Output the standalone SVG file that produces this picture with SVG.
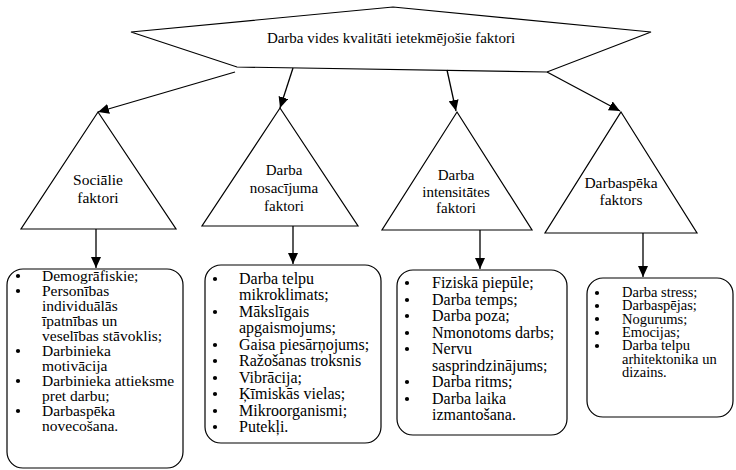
<svg xmlns="http://www.w3.org/2000/svg" width="736" height="470" viewBox="0 0 736 470">
<style>
.s{fill:#fff;stroke:#000;stroke-width:1.2}
text{font-family:'Liberation Serif','Times New Roman',serif;fill:#000}
.c{stroke:#000;stroke-width:1.3;fill:none}
</style>
<defs>
<marker id="ah" markerUnits="userSpaceOnUse" markerWidth="11" markerHeight="10" refX="11" refY="5" orient="auto">
<path d="M0,0 L11,5 L0,10 z" fill="#000"/>
</marker>
<circle id="b" r="2.1" fill="#000"/>
</defs>
<rect width="736" height="470" fill="#fff"/>
<g id="root">
<polygon class="s" points="393,7 651,32 547,72 237,67 131,32"/>
<text x="391" y="43" font-size="15" text-anchor="middle">Darba vides kvalitāti ietekmējošie faktori</text>
</g>
<g id="tri1">
<polygon class="s" points="98,112 176,229 21,229"/>
<text font-size="15.5" text-anchor="middle"><tspan x="98" y="185">Sociālie</tspan><tspan x="98" y="203">faktori</tspan></text>
</g>
<g id="tri2">
<polygon class="s" points="280,108 358,226 202,226"/>
<text font-size="15" text-anchor="middle"><tspan x="284" y="175">Darba</tspan><tspan x="284" y="193">nosacījuma</tspan><tspan x="284" y="211">faktori</tspan></text>
</g>
<g id="tri3">
<polygon class="s" points="457,112 532,230 382,230"/>
<text font-size="15" text-anchor="middle"><tspan x="456" y="180">Darba</tspan><tspan x="456" y="197">intensitātes</tspan><tspan x="456" y="213">faktori</tspan></text>
</g>
<g id="tri4">
<polygon class="s" points="621,112 697,233 545,233"/>
<text font-size="15.5" text-anchor="middle"><tspan x="621" y="188">Darbaspēka</tspan><tspan x="621" y="205">faktors</tspan></text>
</g>
<g id="box1">
<rect class="s" x="7" y="269" width="176" height="199" rx="16"/>
<g><use href="#b" x="18" y="276"/><use href="#b" x="18" y="291"/><use href="#b" x="18" y="351"/><use href="#b" x="18" y="381"/><use href="#b" x="18" y="411"/></g>
<text font-size="15.5"><tspan x="42" y="281">Demogrāfiskie;</tspan><tspan x="42" y="296">Personības</tspan><tspan x="42" y="311">individuālās</tspan><tspan x="42" y="326">īpatnības un</tspan><tspan x="42" y="341">veselības stāvoklis;</tspan><tspan x="42" y="356">Darbinieka</tspan><tspan x="42" y="371">motivācija</tspan><tspan x="42" y="386">Darbinieka attieksme</tspan><tspan x="42" y="401">pret darbu;</tspan><tspan x="42" y="416">Darbaspēka</tspan><tspan x="42" y="431">novecošana.</tspan></text>
</g>
<g id="box2">
<rect class="s" x="205" y="265" width="176" height="178" rx="16"/>
<g><use href="#b" x="215" y="279"/><use href="#b" x="215" y="312"/><use href="#b" x="215" y="345"/><use href="#b" x="215" y="361"/><use href="#b" x="215" y="378"/><use href="#b" x="215" y="394"/><use href="#b" x="215" y="411"/><use href="#b" x="215" y="427"/></g>
<text font-size="16"><tspan x="239" y="284">Darba telpu</tspan><tspan x="239" y="300">mikroklimats;</tspan><tspan x="239" y="317">Mākslīgais</tspan><tspan x="239" y="333">apgaismojums;</tspan><tspan x="239" y="350">Gaisa piesārņojums;</tspan><tspan x="239" y="366">Ražošanas troksnis</tspan><tspan x="239" y="383">Vibrācija;</tspan><tspan x="239" y="399">Ķīmiskās vielas;</tspan><tspan x="239" y="416">Mikroorganismi;</tspan><tspan x="239" y="432">Putekļi.</tspan></text>
</g>
<g id="box3">
<rect class="s" x="397" y="270" width="170" height="165" rx="16"/>
<g><use href="#b" x="407" y="283"/><use href="#b" x="407" y="300"/><use href="#b" x="407" y="316"/><use href="#b" x="407" y="333"/><use href="#b" x="407" y="349"/><use href="#b" x="407" y="382"/><use href="#b" x="407" y="399"/></g>
<text font-size="16"><tspan x="432" y="288">Fiziskā piepūle;</tspan><tspan x="432" y="305">Darba temps;</tspan><tspan x="432" y="321">Darba poza;</tspan><tspan x="432" y="338">Nmonotoms darbs;</tspan><tspan x="432" y="354">Nervu</tspan><tspan x="432" y="371">sasprindzinājums;</tspan><tspan x="432" y="387">Darba ritms;</tspan><tspan x="432" y="404">Darba laika</tspan><tspan x="432" y="420">izmantošana.</tspan></text>
</g>
<g id="box4">
<rect class="s" x="587" y="278" width="146" height="139" rx="16"/>
<g><use href="#b" x="597" y="293"/><use href="#b" x="597" y="306"/><use href="#b" x="597" y="319"/><use href="#b" x="597" y="333"/><use href="#b" x="597" y="346"/></g>
<text font-size="14.5"><tspan x="622" y="297">Darba stress;</tspan><tspan x="622" y="310">Darbaspējas;</tspan><tspan x="622" y="324">Nogurums;</tspan><tspan x="622" y="337">Emocijas;</tspan><tspan x="622" y="350">Darba telpu</tspan><tspan x="622" y="364">arhitektonika un</tspan><tspan x="622" y="377">dizains.</tspan></text>
</g>
<g id="connectors" class="c">
<line x1="235" y1="72" x2="98" y2="112" marker-end="url(#ah)"/>
<line x1="293" y1="68" x2="280" y2="108" marker-end="url(#ah)"/>
<line x1="447" y1="70" x2="456" y2="111" marker-end="url(#ah)"/>
<line x1="547" y1="72" x2="620" y2="111" marker-end="url(#ah)"/>
<line x1="96" y1="229" x2="96" y2="268" marker-end="url(#ah)"/>
<line x1="293" y1="226" x2="293" y2="264" marker-end="url(#ah)"/>
<line x1="480" y1="230" x2="480" y2="269" marker-end="url(#ah)"/>
<line x1="643" y1="233" x2="643" y2="277" marker-end="url(#ah)"/>
</g>
</svg>
